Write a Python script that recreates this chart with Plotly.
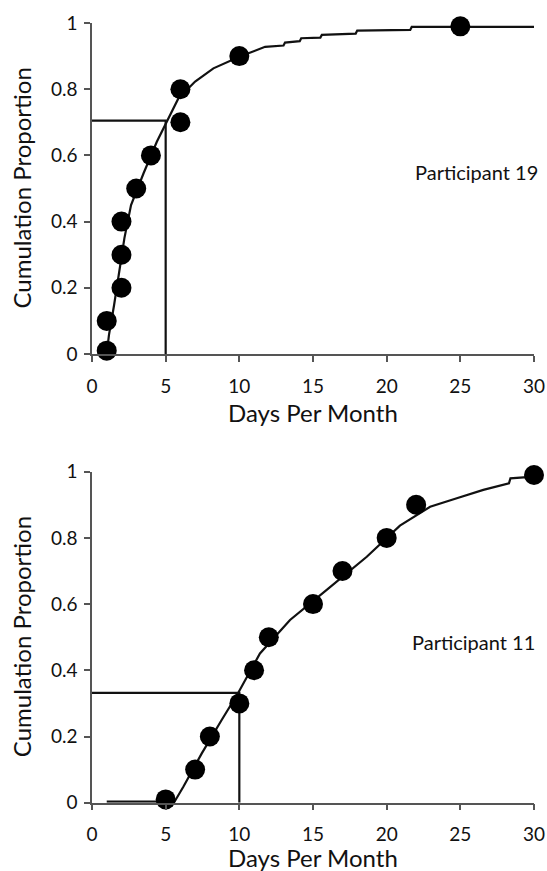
import plotly.graph_objects as go

# ---------------- data ----------------
# Participant 19 (top panel)
p19_days = [1, 1, 2, 2, 2, 3, 4, 6, 6, 10, 25]
p19_prop = [0.01, 0.10, 0.20, 0.30, 0.40, 0.50, 0.60, 0.70, 0.80, 0.90, 0.99]
p19_fit_x = [1.0, 1.15, 1.5, 1.86, 2.2, 2.65, 3.5, 4.4, 5.07, 5.86, 7.0, 8.24, 10.0,
             11.75, 13.0, 13.1, 14.1, 14.2, 15.5, 15.6, 17.9, 18.0, 21.6, 21.7, 30.0]
p19_fit_y = [0.0, 0.057, 0.148, 0.249, 0.35, 0.45, 0.546, 0.641, 0.702, 0.772, 0.823, 0.863, 0.898,
             0.928, 0.932, 0.941, 0.945, 0.954, 0.956, 0.964, 0.968, 0.977, 0.979, 0.988, 0.988]
p19_ref_day = 5
p19_ref_prop = 0.705
p19_label = "Participant 19"

# Participant 11 (bottom panel)
p11_days = [5, 7, 8, 10, 11, 12, 15, 17, 20, 22, 30]
p11_prop = [0.01, 0.10, 0.20, 0.30, 0.40, 0.50, 0.60, 0.70, 0.80, 0.90, 0.99]
p11_fit_x = [1.0, 5.6, 6.2, 7.45, 8.8, 9.9, 11.4, 13.44, 15.93, 18.65, 20.9, 22.95,
             24.76, 26.56, 28.3, 28.4, 30.0]
p11_fit_y = [0.003, 0.003, 0.048, 0.149, 0.25, 0.33, 0.451, 0.552, 0.643, 0.743, 0.837, 0.894,
             0.92, 0.945, 0.965, 0.98, 0.985]
p11_ref_day = 10
p11_ref_prop = 0.332
p11_label = "Participant 11"

x_ticks = [0, 5, 10, 15, 20, 25, 30]
y_ticks = [0, 0.2, 0.4, 0.6, 0.8, 1]
y_ticktext = ["0", "0.2", "0.4", "0.6", "0.8", "1"]
x_title = "Days Per Month"
y_title = "Cumulation Proportion"

# ---------------- figure ----------------
W, H = 547, 871
FONT = "Lato"
INK = "#111111"
AXIS = "#555555"

fig = go.Figure()

panels = [
    ("x", "y", p19_days, p19_prop, p19_fit_x, p19_fit_y, p19_ref_day, p19_ref_prop),
    ("x2", "y2", p11_days, p11_prop, p11_fit_x, p11_fit_y, p11_ref_day, p11_ref_prop),
]
for xa, ya, dx, dy, fx, fy, rx, ry in panels:
    fig.add_trace(go.Scatter(x=fx, y=fy, mode="lines", xaxis=xa, yaxis=ya,
                             line=dict(color=INK, width=2.2), showlegend=False,
                             cliponaxis=False, hoverinfo="skip"))
    fig.add_trace(go.Scatter(x=[0, rx, rx], y=[ry, ry, 0], mode="lines", xaxis=xa, yaxis=ya,
                             line=dict(color=INK, width=2.2), showlegend=False,
                             cliponaxis=False, hoverinfo="skip"))
    fig.add_trace(go.Scatter(x=dx, y=dy, mode="markers", xaxis=xa, yaxis=ya,
                             marker=dict(color="black", size=20, line=dict(width=0)),
                             showlegend=False, cliponaxis=False))

x0, x1 = 92 / W, 534 / W
top_dom = [(H - 354) / H, (H - 23) / H]
bot_dom = [(H - 802.7) / H, (H - 471.7) / H]

xaxis_common = dict(range=[0, 30], tickvals=x_ticks, showline=True, linecolor=AXIS, linewidth=1.5,
                    ticks="outside", ticklen=6, tickcolor=AXIS, tickwidth=1.5,
                    showgrid=False, zeroline=False, ticklabelstandoff=8, automargin=False,
                    tickfont=dict(family=FONT, size=19, color=INK), domain=[x0, x1])
yaxis_common = dict(range=[0, 1], tickvals=y_ticks, ticktext=y_ticktext, showline=True,
                    linecolor=AXIS, linewidth=1.5, ticks="outside", ticklen=6, tickcolor=AXIS,
                    tickwidth=1.5, showgrid=False, zeroline=False, ticklabelstandoff=3,
                    automargin=False, tickfont=dict(family=FONT, size=19, color=INK))

fig.update_layout(
    width=W, height=H,
    margin=dict(l=0, r=0, t=0, b=0, autoexpand=False),
    paper_bgcolor="white", plot_bgcolor="white",
    font=dict(family=FONT, color=INK),
    xaxis=dict(**xaxis_common, anchor="y"),
    yaxis=dict(**yaxis_common, domain=top_dom, anchor="x"),
    xaxis2=dict(**xaxis_common, anchor="y2"),
    yaxis2=dict(**yaxis_common, domain=bot_dom, anchor="x2"),
)

annotations = []
for dom, label, lx, ly, xr, yr, toff in [(top_dom, p19_label, 26.1, 0.55, "x", "y", 58),
                                          (bot_dom, p11_label, 25.9, 0.486, "x2", "y2", 55)]:
    mid = (dom[0] + dom[1]) / 2
    annotations.append(dict(text=y_title, xref="paper", yref="paper", x=21 / W, y=mid,
                            textangle=-90, showarrow=False, xanchor="center", yanchor="middle",
                            font=dict(family=FONT, size=24, color=INK)))
    annotations.append(dict(text=x_title, xref="paper", yref="paper", x=(x0 + x1) / 2,
                            y=dom[0] - toff / H, showarrow=False, xanchor="center",
                            yanchor="middle", font=dict(family=FONT, size=24, color=INK)))
    annotations.append(dict(text=label, xref=xr, yref=yr, x=lx, y=ly, showarrow=False,
                            xanchor="center", yanchor="middle",
                            font=dict(family=FONT, size=20, color=INK)))
fig.update_layout(annotations=annotations)

fig.write_html("out.html", config={"displayModeBar": False},
               post_script="document.body.style.margin='0';document.body.style.overflow='hidden';")
